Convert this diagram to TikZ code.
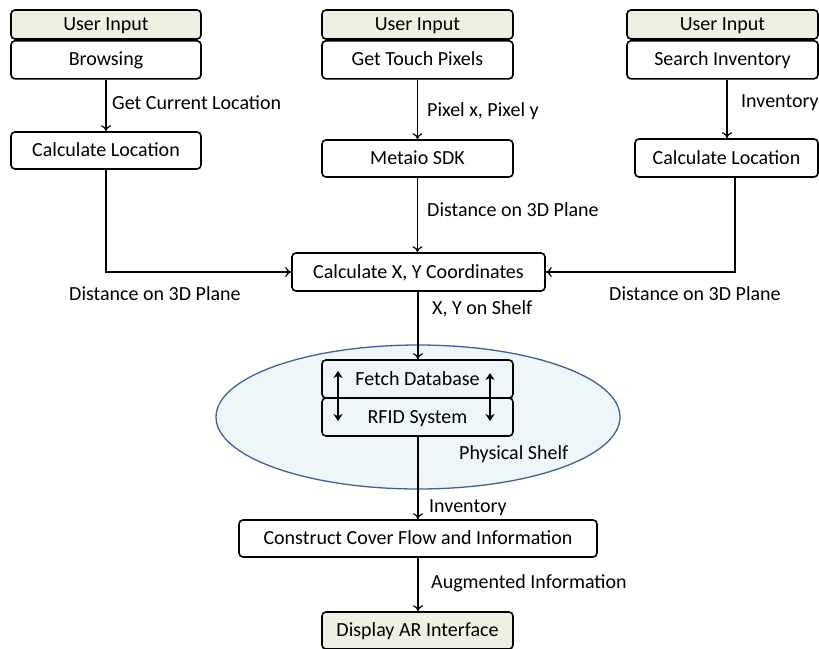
\documentclass[tikz,border=0pt]{standalone}
\usepackage{fontspec}
\setmainfont{Carlito}
\usetikzlibrary{arrows.meta}
\definecolor{headfill}{HTML}{EEF0E1}
\definecolor{shelffill}{HTML}{EEF6F9}
\definecolor{shelfline}{HTML}{41618F}
\tikzset{
  box/.style={draw, line width=1.6pt, rounded corners=4pt, fill=white, inner sep=0pt,
    text height=13pt, text depth=1pt, font=\fontsize{20}{24}\selectfont},
  head/.style={box, fill=headfill},
  lbl/.style={font=\fontsize{20}{24}\selectfont, inner sep=0pt, anchor=west, yshift=-2pt},
  flow/.style={line width=1.2pt, -{To[length=6pt,width=10pt]}},
  both/.style={line width=1.8pt, {Stealth[length=7pt,width=9pt]}-{Stealth[length=7pt,width=9pt]}}
}
\begin{document}
\begin{tikzpicture}[x=1pt,y=-1pt]
\useasboundingbox (0,0) rectangle (819,648);
% physical shelf
\draw[shelffill, fill=shelffill] (418,417) ellipse [x radius=202, y radius=72];
\draw[shelfline, line width=1.3pt] (418,417) ellipse [x radius=202, y radius=72];
% user inputs
\node[head, minimum width=190, minimum height=29] (u1) at (106,24.5) {User Input};
\node[box, minimum width=190, minimum height=38, anchor=north] (b1) at (106,40) {Browsing};
\node[head, minimum width=191, minimum height=29] (u2) at (417.5,24.5) {User Input};
\node[box, minimum width=191, minimum height=38, anchor=north] (b2) at (417.5,40) {Get Touch Pixels};
\node[head, minimum width=191, minimum height=29] (u3) at (722.5,24.5) {User Input};
\node[box, minimum width=191, minimum height=38, anchor=north] (b3) at (722.5,40) {Search Inventory};
% second row
\node[box, minimum width=190, minimum height=37] (c1) at (106,150.5) {Calculate Location};
\node[box, minimum width=191, minimum height=37] (sdk) at (417.5,158.5) {Metaio SDK};
\node[box, minimum width=183, minimum height=38] (c3) at (726.5,158) {Calculate Location};
% centre
\node[box, minimum width=253, minimum height=38] (xy) at (418.5,272) {Calculate X, Y Coordinates};
\node[box, minimum width=191, minimum height=38, fill=none] (fd) at (417.5,379) {Fetch Database};
\node[box, minimum width=191, minimum height=38, fill=none] (rf) at (417.5,417) {RFID System};
\node[box, minimum width=358, minimum height=37] (cc) at (418,538.5) {Construct Cover Flow and Information};
\node[head, minimum width=191, minimum height=37] (ar) at (417.5,630.5) {Display AR Interface};
% connectors
\draw[flow] (b1.south) -- (c1.north);
\draw[flow] (b2.south) -- (sdk.north);
\draw[flow] (b3.south -| 727,0) -- (c3.north -| 727,0);
\draw[flow] (sdk.south) -- (xy.north -| sdk.south);
\draw[flow] (c1.south) |- (xy.west);
\draw[flow] (c3.south -| 735,0) |- (xy.east);
\draw[flow] (xy.south -| 418,0) -- (fd.north -| 418,0);
\draw[flow] (rf.south -| 418,0) -- (cc.north -| 418,0);
\draw[flow] (cc.south) -- (ar.north -| cc.south);
\coordinate (la) at (338,371);
\coordinate (lb) at (338,421);
\coordinate (ra) at (490,373);
\coordinate (rb) at (490,421);
\draw[both] (la) -- (lb);
\draw[both] (ra) -- (rb);
% labels
\node[lbl] (t1) at (112,101) {Get Current Location};
\node[lbl] (t2) at (427,109) {Pixel x, Pixel y};
\node[lbl] (t3) at (741,101) {Inventory};
\node[lbl] (t4) at (427,208) {Distance on 3D Plane};
\node[lbl] (t5) at (69,292) {Distance on 3D Plane};
\node[lbl] (t6) at (609,292) {Distance on 3D Plane};
\node[lbl] (t7) at (432,307) {X, Y on Shelf};
\node[lbl] (t8) at (459,452) {Physical Shelf};
\node[lbl] (t9) at (429,506) {Inventory};
\node[lbl] (t10) at (431,581) {Augmented Information};
\end{tikzpicture}
\end{document}
